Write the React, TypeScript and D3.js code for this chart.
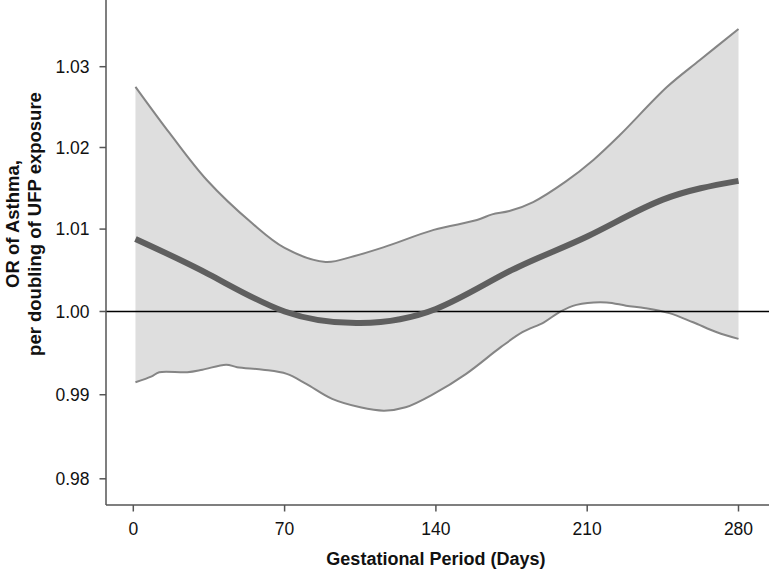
import React from "react";
import * as d3 from "d3";

const xTicks = [0, 70, 140, 210, 280];
const yTicks = [0.98, 0.99, 1.0, 1.01, 1.02, 1.03];
const yTickLabels = ["0.98", "0.99", "1.00", "1.01", "1.02", "1.03"];

const upperDays = [1, 17, 34, 55, 70, 89, 102, 116, 139, 159, 166, 174, 185, 200, 213, 225, 247, 262, 280];
const upperOR = [1.0275, 1.0217, 1.016, 1.0107, 1.0077, 1.006, 1.0067, 1.0078, 1.0099, 1.0111, 1.0118, 1.0122, 1.0133, 1.0158, 1.0185, 1.0215, 1.0275, 1.0308, 1.0347];

const meanDays = [1, 35, 70, 105, 140, 175, 210, 245, 280];
const meanOR = [1.0088, 1.0045, 1.0, 0.9986, 1.0003, 1.005, 1.0091, 1.0136, 1.0159];

const lowerDays = [1, 8.5, 12, 25, 32, 43, 48, 60, 71, 80, 92, 105, 116, 126, 139, 154, 170, 180, 190, 197, 205, 219, 228, 237, 248, 259, 270, 280];
const lowerOR = [0.9915, 0.9922, 0.9927, 0.9927, 0.993, 0.9936, 0.9933, 0.993, 0.9925, 0.9913, 0.9895, 0.9885, 0.9881, 0.9885, 0.9901, 0.9925, 0.9957, 0.9975, 0.9987, 0.9999, 1.0008, 1.0011, 1.0007, 1.0004, 0.9998, 0.9987, 0.9975, 0.9967];

const W = 769;
const H = 571;

export default function App() {
  const x = d3.scaleLinear().domain([0, 280]).range([133.3, 738.5]);
  const y = d3.scaleLog().domain([0.98, 1.03]).range([478.8, 66.7]);

  const axisX = 106;
  const axisY = 505;

  const upper = upperDays.map((d, i) => [x(d), y(upperOR[i])] as [number, number]);
  const lower = lowerDays.map((d, i) => [x(d), y(lowerOR[i])] as [number, number]);
  const mean = meanDays.map((d, i) => [x(d), y(meanOR[i])] as [number, number]);

  const line = d3.line().curve(d3.curveCatmullRom.alpha(0.5));
  const smooth = d3.line().curve(d3.curveNatural);
  const upperPath = line(upper) || "";
  const lowerPath = line(lower) || "";
  const lowerRev = line(lower.slice().reverse()) || "";
  const bandPath = upperPath + "L" + lowerRev.slice(1) + "Z";
  const meanPath = smooth(mean) || "";

  const font = "'Liberation Sans', Arial, Helvetica, sans-serif";
  const axisColor = "#555555";

  return (
    <svg
      width={W}
      height={H}
      style={{ position: "absolute", left: 0, top: 0, background: "#ffffff" }}
      fontFamily={font}
    >
      <path d={bandPath} fill="#dedede" stroke="none" />
      <path d={upperPath} fill="none" stroke="#858585" strokeWidth={2} />
      <path d={lowerPath} fill="none" stroke="#858585" strokeWidth={2} />
      <line x1={axisX} x2={W} y1={y(1.0)} y2={y(1.0)} stroke="#000" strokeWidth={1.6} />
      <path d={meanPath} fill="none" stroke="#5f5f5f" strokeWidth={6} strokeLinecap="butt" />

      <line x1={axisX} x2={axisX} y1={0} y2={axisY} stroke={axisColor} strokeWidth={1.5} />
      <line x1={axisX} x2={W} y1={axisY} y2={axisY} stroke={axisColor} strokeWidth={1.5} />

      {yTicks.map((t, i) => (
        <g key={"y" + i}>
          <line x1={axisX - 6.5} x2={axisX} y1={y(t)} y2={y(t)} stroke={axisColor} strokeWidth={1.5} />
          <text x={89.5} y={y(t)} dy="0.36em" textAnchor="end" fontSize={17.5} fill="#111">
            {yTickLabels[i]}
          </text>
        </g>
      ))}

      {xTicks.map((t, i) => (
        <g key={"x" + i}>
          <line x1={x(t)} x2={x(t)} y1={axisY} y2={axisY + 6.5} stroke={axisColor} strokeWidth={1.5} />
          <text x={x(t)} y={535} textAnchor="middle" fontSize={17.5} fill="#111">
            {String(t)}
          </text>
        </g>
      ))}

      <text x={x(140)} y={565} textAnchor="middle" fontSize={18} fontWeight="bold" fill="#111">
        Gestational Period (Days)
      </text>

      <g transform="translate(19,224) rotate(-90)">
        <text x={0} y={0} textAnchor="middle" fontSize={18.5} fontWeight="bold" fill="#111">
          OR of Asthma,
        </text>
      </g>
      <g transform="translate(41,224) rotate(-90)">
        <text x={0} y={0} textAnchor="middle" fontSize={18.5} fontWeight="bold" fill="#111">
          per doubling of UFP exposure
        </text>
      </g>
    </svg>
  );
}
